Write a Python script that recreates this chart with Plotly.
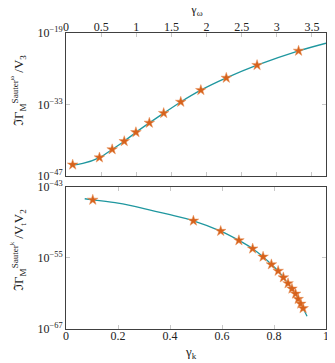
import numpy as np
import plotly.graph_objects as go

# top panel: gamma_omega vs log10(Im Gamma / V3)
top_mark_x = [0.095, 0.476, 0.657, 0.829, 0.995, 1.186, 1.39, 1.633, 1.919, 2.281, 2.719, 3.31]
top_mark_logy = [-44.8, -43.4, -41.8, -40.2, -38.45, -36.6, -34.7, -32.5, -30.2, -27.8, -25.3, -22.5]
top_curve_x = [0.06, 0.095, 0.24, 0.476, 0.657, 0.829, 0.995, 1.186, 1.39, 1.633, 1.919, 2.281, 2.719, 3.31, 3.7]
top_curve_logy = [-44.85, -44.85, -44.55, -43.4, -41.8, -40.2, -38.45, -36.6, -34.7, -32.5, -30.2, -27.8, -25.3, -22.5, -21.0]

# bottom panel: gamma_k vs log10(Im Gamma / Vt V2)
bot_mark_x = [0.103, 0.49, 0.595, 0.665, 0.718, 0.758, 0.790, 0.816, 0.836, 0.854, 0.869, 0.883, 0.893, 0.903, 0.912]
bot_mark_logy = [-45.19, -48.72, -50.46, -52.03, -53.43, -54.8, -56.1, -57.2, -58.3, -59.3, -60.2, -61.05, -61.95, -62.75, -63.5]
bot_curve_x = [0.072, 0.103, 0.2, 0.3, 0.4, 0.49, 0.595, 0.665, 0.718, 0.758, 0.790, 0.816, 0.836, 0.854, 0.869, 0.883, 0.893, 0.903, 0.912, 0.927]
bot_curve_logy = [-45.0, -45.19, -45.75, -46.65, -47.7, -48.72, -50.46, -52.03, -53.43, -54.8, -56.1, -57.2, -58.3, -59.3, -60.2, -61.05, -61.95, -62.75, -63.5, -64.85]

line_col = "#1f979f"
mark_col = "#d6621c"
font_fam = "Liberation Serif"

fig = go.Figure()

def add_panel(cx, cy, mx, my, xa, ya):
    fig.add_trace(go.Scatter(x=cx, y=10.0 ** np.array(cy), mode="lines",
                             line=dict(color=line_col, width=1.3, shape="spline", smoothing=0.8),
                             xaxis=xa, yaxis=ya, showlegend=False))
    fig.add_trace(go.Scatter(x=mx, y=10.0 ** np.array(my), mode="markers",
                             marker=dict(symbol="star", size=8, color=mark_col,
                                         line=dict(color="#e8925a", width=0.5)),
                             xaxis=xa, yaxis=ya, showlegend=False))

add_panel(top_curve_x, top_curve_logy, top_mark_x, top_mark_logy, "x", "y")
add_panel(bot_curve_x, bot_curve_logy, bot_mark_x, bot_mark_logy, "x2", "y2")

ax_common = dict(showline=True, linecolor="#404040", linewidth=1, mirror="ticks",
                 ticks="inside", ticklen=4, tickcolor="#c8c8c8", tickwidth=1,
                 showgrid=False, zeroline=False, automargin=False,
                 tickfont=dict(family=font_fam, size=12, color="#222"))

# page body adds an 8px offset, so margins are shifted to compensate
fig.update_layout(
    width=335, height=363,
    margin=dict(l=58, r=17, t=25, b=42),
    plot_bgcolor="white", paper_bgcolor="white",
    font=dict(family=font_fam, color="#222"),
    xaxis=dict(ax_common, domain=[0, 1], range=[0, 3.7], side="top", anchor="y",
               ticklabelstandoff=-4,
               tickvals=[0, 0.5, 1, 1.5, 2, 2.5, 3, 3.5],
               ticktext=["0", "0.5", "1", "1.5", "2", "2.5", "3", "3.5"]),
    yaxis=dict(ax_common, domain=[0.517, 1], type="log", range=[-47, -19], anchor="x",
               tickvals=[1e-47, 1e-33, 1e-19],
               ticktext=["10<sup>−47</sup>", "10<sup>−33</sup>", "10<sup>−19</sup>"]),
    xaxis2=dict(ax_common, domain=[0, 1], range=[0, 1], anchor="y2",
                ticklabelstandoff=-4,
                tickvals=[0, 0.2, 0.4, 0.6, 0.8, 1],
                ticktext=["0", "0.2", "0.4", "0.6", "0.8", "1"]),
    yaxis2=dict(ax_common, domain=[0, 0.48], type="log", range=[-67, -43], anchor="x2",
                tickvals=[1e-67, 1e-55, 1e-43],
                ticktext=["10<sup>−67</sup>", "10<sup>−55</sup>", "10<sup>−43</sup>"]),
)

# axis titles as annotations so they can sit close to the page edges
title_font = dict(family=font_fam, size=13, color="#222")
fig.add_annotation(text="γ<sub>ω</sub>", xref="paper", yref="paper", x=0.5, y=1.078,
                   xanchor="center", yanchor="middle", showarrow=False, font=title_font)
fig.add_annotation(text="γ<sub>k</sub>", xref="paper", yref="paper", x=0.48, y=-0.078,
                   xanchor="center", yanchor="middle", showarrow=False, font=title_font)
fig.add_annotation(text="ℑΓ<sub>M</sub><sup>Sauter<sup>ω</sup></sup> /V<sub>3</sub>",
                   xref="paper", yref="paper", x=0, xshift=-48, y=0.804, textangle=-90,
                   xanchor="center", yanchor="middle", showarrow=False, font=title_font)
fig.add_annotation(text="ℑΓ<sub>M</sub><sup>Sauter<sup>k</sup></sup> /V<sub>t</sub>V<sub>2</sub>",
                   xref="paper", yref="paper", x=0, xshift=-48, y=0.267, textangle=-90,
                   xanchor="center", yanchor="middle", showarrow=False, font=title_font)

fig.write_html("out.html")
